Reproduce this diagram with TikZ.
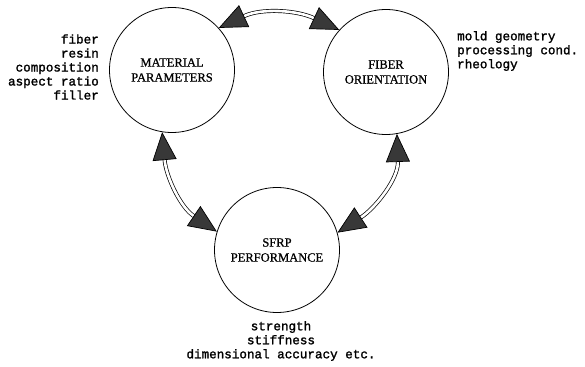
\documentclass[tikz,border=0pt]{standalone}
\usepackage{fontspec}
\newfontfamily\lblfont{Liberation Mono}[FakeBold=1.6]
\newfontfamily\boxfont{Liberation Serif}[FakeBold=0.8]
\usetikzlibrary{arrows.meta, positioning}

\tikzset{
    blob/.style={draw, circle, line width=0.8pt, minimum size=125pt, inner sep=0pt,
        align=center, font=\boxfont\fontsize{12.5}{15}\selectfont},
    lbl/.style={font=\lblfont\fontsize{12.6}{14}\selectfont, inner sep=0pt},
    head/.tip={Triangle[length=28pt, width=24pt, fill=black!78]},
    link/.style={line width=0.7pt, double, double distance=2.6pt, head-head},
}

\begin{document}
\begin{tikzpicture}[x=1pt, y=-1pt]
    \useasboundingbox (0,0) rectangle (585,366);

    % Cerchi
    \node[blob] (mat)  at (172,70)  {MATERIAL\\PARAMETERS};
    \node[blob] (fib)  at (386,72)  {FIBER\\ORIENTATION};
    \node[blob] (sfrp) at (277,250) {SFRP\\PERFORMANCE};

    % Etichette
    \node[lbl, align=right, anchor=east] (matlbl) at (99,67) {fiber\\resin\\composition\\aspect ratio\\filler};
    \node[lbl, align=left, anchor=west] (fiblbl) at (457,51) {mold geometry\\processing cond.\\rheology};
    \node[lbl, align=center] (sfrplbl) at (281,341) {strength\\stiffness\\dimensional accuracy etc.};

    % Frecce doppie
    \draw[link] (mat.42)  to[out=25, in=155]  (fib.138);
    \draw[link] (mat.261) to[out=-85, in=146] (sfrp.163);
    \draw[link] (fib.280) to[out=-88, in=33]  (sfrp.16);
\end{tikzpicture}
\end{document}
